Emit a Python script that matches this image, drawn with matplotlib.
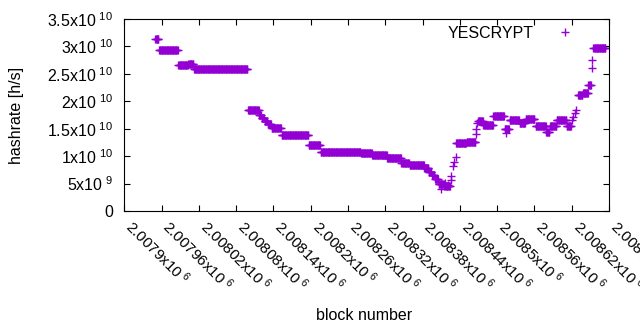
import numpy as np
import matplotlib
matplotlib.use('Agg')
import matplotlib.pyplot as plt
from matplotlib.ticker import FuncFormatter

plt.rcParams['font.family'] = ['Liberation Sans', 'DejaVu Sans']
plt.rcParams['mathtext.fontset'] = 'custom'
plt.rcParams['mathtext.rm'] = 'Liberation Sans'
plt.rcParams['mathtext.default'] = 'regular'

# 블록 번호 기준값
base_block = 2007900

# 같은 hashrate가 이어지는 구간 (시작, 끝 블록 오프셋, 값)
run_start = [50, 56, 87, 103, 112, 199, 217, 221, 226, 231, 237, 253, 297, 316,
             381, 399, 423, 446, 459, 483, 490, 495, 500, 506, 515, 534, 551,
             569, 578, 594, 612, 620, 636, 646, 662, 679, 685, 696, 712, 730,
             738, 747, 755]
run_end = [55, 86, 102, 111, 198, 216, 220, 225, 230, 236, 252, 296, 315, 380,
           398, 422, 445, 458, 482, 489, 494, 499, 505, 514, 524, 550, 565,
           577, 593, 611, 619, 635, 645, 660, 678, 684, 695, 711, 719, 737,
           746, 751, 774]
run_value = [3.13e10, 2.93e10, 2.656e10, 2.685e10, 2.583e10, 1.836e10, 1.75e10,
             1.695e10, 1.64e10, 1.586e10, 1.508e10, 1.38e10, 1.198e10, 1.07e10,
             1.06e10, 1.015e10, 0.961e10, 0.875e10, 0.833e10, 0.784e10, 0.72e10,
             0.656e10, 0.583e10, 0.492e10, 0.456e10, 1.234e10, 1.258e10,
             1.64e10, 1.568e10, 1.74e10, 1.49e10, 1.66e10, 1.60e10, 1.67e10,
             1.55e10, 1.445e10, 1.55e10, 1.66e10, 1.55e10, 2.106e10, 2.16e10,
             2.297e10, 2.966e10]

# 구간 사이의 낱개 점
pt_block = [510, 516, 521, 525, 525, 529, 531, 533, 566, 566, 568, 614,
            720, 722, 725, 727, 752, 753]
pt_value = [0.401e10, 0.51e10, 0.47e10, 0.638e10, 0.565e10, 0.82e10, 0.9e10,
            0.979e10, 1.398e10, 1.489e10, 1.60e10, 1.42e10,
            1.66e10, 1.72e10, 1.79e10, 1.84e10, 2.6e10, 2.75e10]

blocks = []
values = []
for s, e, v in zip(run_start, run_end, run_value):
    for b in range(s, e + 1):
        blocks.append(base_block + b)
        values.append(v)
for b, v in zip(pt_block, pt_value):
    blocks.append(base_block + b)
    values.append(v)


def y_fmt(v, pos):
    if v == 0:
        return '0'
    exp = int(np.floor(np.log10(v)))
    mant = v / 10 ** exp
    return '{:g}x10$^{{\\ {}}}$'.format(round(mant, 4), exp)


def x_fmt(v, pos):
    return '{:g}x10$^{{\\ 6}}$'.format(round(v / 1e6, 6))


fs = 11.5
fig = plt.figure(figsize=(6.4, 3.3), dpi=100)
ax = fig.add_axes([124.3 / 640, 1 - 211 / 330, (609 - 124.3) / 640, (211 - 19) / 330])

ax.plot(blocks, values, '+', color='#9400d3', ms=5.5, mew=1.0, label='YESCRYPT')

ax.set_xlim(2007900, 2008680)
ax.set_ylim(0, 3.5e10)
ax.set_xticks(np.arange(2007900, 2008681, 60))
ax.set_yticks(np.arange(0, 3.51e10, 5e9))
ax.xaxis.set_major_formatter(FuncFormatter(x_fmt))
ax.yaxis.set_major_formatter(FuncFormatter(y_fmt))
ax.tick_params(direction='in', length=4, width=0.8, top=True, right=True,
               labelsize=fs, colors='black')
ax.tick_params(axis='y', pad=8)
ax.tick_params(axis='x', pad=12, labelsize=11)
for lab in ax.get_xticklabels():
    lab.set_rotation(-45)
    lab.set_ha('left')
    lab.set_va('baseline')
    lab.set_rotation_mode('anchor')
for sp in ax.spines.values():
    sp.set_linewidth(0.8)

fig.text(17 / 640, 1 - 115 / 330, 'hashrate [h/s]', rotation=90,
         ha='center', va='center', fontsize=fs)
fig.text(364 / 640, 1 - 315 / 330, 'block number', ha='center', va='center',
         fontsize=fs)

ax.legend(loc='upper right', bbox_to_anchor=(0.942, 0.965), markerfirst=False,
          frameon=False, borderpad=0, borderaxespad=0, handlelength=2,
          handletextpad=0.95, fontsize=fs)

fig.savefig('out.png', dpi=100)
